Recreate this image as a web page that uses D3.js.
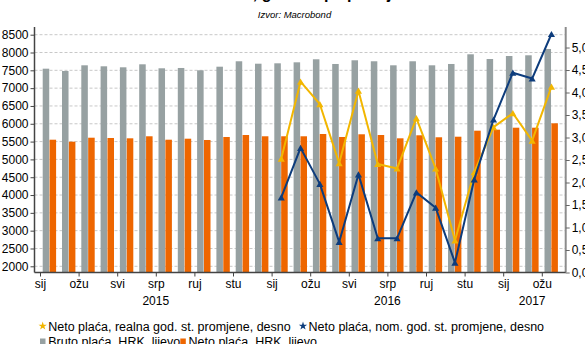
<!DOCTYPE html>
<html><head><meta charset="utf-8">
<script src="https://cdn.jsdelivr.net/npm/d3@7"></script>
<style>
body{margin:0;background:#fff}
svg{display:block}
text{font-family:"Liberation Sans",Arial,Helvetica,sans-serif;fill:#000}
</style>
</head><body>
<svg id="c" width="585" height="344"></svg>
<script>
// ---- data ----
const months = ["2015-01","2015-02","2015-03","2015-04","2015-05","2015-06","2015-07","2015-08","2015-09","2015-10","2015-11","2015-12",
                "2016-01","2016-02","2016-03","2016-04","2016-05","2016-06","2016-07","2016-08","2016-09","2016-10","2016-11","2016-12",
                "2017-01","2017-02","2017-03"];
const monthNames = ["sij","velj","ožu","tra","svi","lip","srp","kol","ruj","lis","stu","pro"];
const grossHRK = [7546,7481,7641,7613,7585,7669,7557,7566,7501,7602,7754,7686,
                  7697,7725,7810,7678,7782,7754,7641,7754,7641,7678,7950,7818,
                  7902,7922,8099];
const netHRK   = [5553,5497,5609,5601,5592,5649,5553,5581,5545,5629,5685,5649,
                  5649,5649,5713,5629,5705,5685,5592,5677,5621,5637,5806,5834,
                  5890,5890,6013];
const lineMonths = months.slice(12);
const realYoY    = [2.53,4.24,3.74,2.43,4.04,2.41,2.31,3.43,2.31,0.71,2.23,3.23,3.54,2.93,4.13];
const nominalYoY = [1.67,2.77,1.97,0.68,2.18,0.76,0.76,1.78,1.44,0.22,2.07,3.40,4.44,4.31,5.30];
const leftTicks  = [2000,2500,3000,3500,4000,4500,5000,5500,6000,6500,7000,7500,8000,8500];
const rightTicks = [0,0.5,1,1.5,2,2.5,3,3.5,4,4.5,5];
const years = ["2015","2016","2017"];
const titleText = "Plaće, god. stopa promjene";
const sourceText = "Izvor: Macrobond";
const legendItems = [
  {name:"Neto plaća, realna god. st. promjene, desno", type:"star", color:"#f2b600"},
  {name:"Neto plaća, nom. god. st. promjene, desno", type:"star", color:"#0d3c7c"},
  {name:"Bruto plaća, HRK, lijevo", type:"rect", color:"#97a1a2"},
  {name:"Neto plaća, HRK, lijevo", type:"rect", color:"#ee6600"}
];
const C = {gross:"#97a1a2", net:"#ee6600", real:"#f2b600", nom:"#0d3c7c"};

// ---- layout ----
const svg = d3.select("#c");
const L = 34.5, R = 565.7, T = 27, B = 272.5;
const x = d3.scaleBand().domain(months).range([40, 40 + 27*19.3]).padding(0);
const sub = d3.scaleBand().domain(["g","n"]).range([2.7, 16.1]).paddingInner(0.05);
const yL = d3.scaleLinear().domain([1826, 8716]).range([B, T]);
const yR = d3.scaleLinear().domain([0, 5.456]).range([B, T]);

// title (mostly cut off at the top, as in the reference) & source
svg.append("text").attr("x", 211).attr("y", -1)
  .attr("font-size", 16).attr("font-weight","bold").text(titleText);
svg.append("text").attr("x", 294.5).attr("y", 18).attr("text-anchor","middle")
  .attr("font-size", 9.5).attr("font-style","italic").text(sourceText);

// gridlines
svg.append("g").selectAll("line").data(leftTicks).join("line")
  .attr("x1", L).attr("x2", R).attr("y1", d=>yL(d)).attr("y2", d=>yL(d))
  .attr("stroke","#c8c8c8").attr("stroke-width",1).attr("stroke-dasharray","3,2");

// bars
const bars = svg.append("g");
bars.selectAll(".g").data(months).join("rect")
  .attr("x", d=>x(d)+sub("g")).attr("width", sub.bandwidth())
  .attr("y", (d,i)=>yL(grossHRK[i])).attr("height",(d,i)=>B - yL(grossHRK[i]))
  .attr("fill", C.gross);
bars.selectAll(".n").data(months, d=>"n"+d).join("rect")
  .attr("x", d=>x(d)+sub("n")).attr("width", sub.bandwidth())
  .attr("y", (d,i)=>yL(netHRK[i])).attr("height",(d,i)=>B - yL(netHRK[i]))
  .attr("fill", C.net);

// lines
const cx = d => x(d) + x.bandwidth()/2;
function drawLine(vals, color){
  const g = svg.append("g");
  g.append("path").datum(vals)
    .attr("d", d3.line().x((d,i)=>cx(lineMonths[i])).y(d=>yR(d)))
    .attr("fill","none").attr("stroke",color).attr("stroke-width",2).attr("stroke-linejoin","round");
  g.selectAll("path.m").data(vals).join("path").attr("class","m")
    .attr("transform",(d,i)=>`translate(${cx(lineMonths[i])},${yR(d)+1})`)
    .attr("d", d3.symbol(d3.symbolTriangle, 22)).attr("fill", color);
}
drawLine(realYoY, C.real);
drawLine(nominalYoY, C.nom);

// left axis
const gl = svg.append("g").attr("transform",`translate(${L},0)`)
  .call(d3.axisLeft(yL).tickValues(leftTicks).tickSize(4).tickPadding(2).tickFormat(d3.format("d")));
gl.select(".domain").attr("stroke","#444").attr("stroke-width",1.5).attr("d",`M0,${T}V${B}`);
gl.selectAll(".tick line").attr("stroke","#444");
gl.selectAll("text").attr("font-size",12).attr("fill","#000").attr("font-family","Liberation Sans, Arial, sans-serif");

// right axis
const gr = svg.append("g").attr("transform",`translate(${R},0)`)
  .call(d3.axisRight(yR).tickValues(rightTicks).tickSize(4).tickPadding(2)
    .tickFormat(d => d3.format(".1f")(d).replace(".", ",")));
gr.select(".domain").attr("stroke","#8c8c8c").attr("stroke-width",2).attr("d",`M0,${T}V${B}`);
gr.selectAll(".tick line").attr("stroke","#666");
gr.selectAll("text").attr("font-size",12).attr("fill","#000").attr("font-family","Liberation Sans, Arial, sans-serif");

// bottom axis
const tickMonths = months.filter(m => (+m.slice(5,7)) % 2 === 1);
const xt = d3.scalePoint().domain(months).range([40, 40 + 26*19.3]);
const gb = svg.append("g").attr("transform",`translate(0,${B})`)
  .call(d3.axisBottom(xt).tickValues(tickMonths).tickSize(4).tickPadding(3)
    .tickFormat(m => monthNames[+m.slice(5,7)-1]));
gb.select(".domain").attr("stroke","#444").attr("stroke-width",1.5).attr("d",`M${L},0H${R}`);
gb.selectAll(".tick line").attr("stroke","#444");
gb.selectAll("text").attr("font-size",12).attr("fill","#000").attr("font-family","Liberation Sans, Arial, sans-serif");

// year labels: centred on each year's span of months
svg.append("g").selectAll("text").data(years).join("text")
  .attr("x", yr => {
    const ms = months.filter(m => m.startsWith(yr));
    return (x(ms[0]) + x(ms[ms.length-1]) + x.bandwidth())/2;
  })
  .attr("y", 305).attr("text-anchor","middle").attr("font-size",12).text(d=>d);

// legend
const lg = svg.append("g").attr("font-size",12.5);
const legPos = [[42.7,326],[303,326],[42.7,341.5],[183,341.5]];
legendItems.forEach((it,i) => {
  const [lx,ly] = legPos[i];
  if (it.type === "star") {
    lg.append("path").attr("transform",`translate(${lx},${ly})`)
      .attr("d", d3.symbol(d3.symbolStar, 22)).attr("fill", it.color);
  } else {
    lg.append("rect").attr("x", lx-2.7).attr("y", ly-3).attr("width",5.5).attr("height",6).attr("fill", it.color);
  }
  lg.append("text").attr("x", lx+5.5).attr("y", ly+4.5).text(it.name);
});
</script>
</body></html>
